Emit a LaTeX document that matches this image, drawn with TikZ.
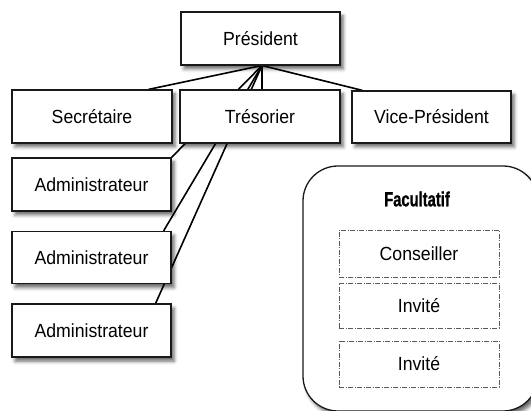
\documentclass[tikz,border=0pt]{standalone}
\usepackage{fontspec}
\setmainfont{Liberation Sans}[FakeStretch=0.93]
\newfontfamily\condfont{Liberation Sans}[FakeStretch=0.72, BoldFeatures={FakeBold=0.8}]
\usetikzlibrary{shadows.blur,calc}
\pgfdeclarelayer{bg}
\pgfsetlayers{bg,main}
\begin{document}
\begin{tikzpicture}[x=1pt,y=-1pt,
  shd/.style={blur shadow={shadow xshift=3pt, shadow yshift=-4pt, shadow blur radius=3.5pt, shadow opacity=60}},
  box/.style={draw=black!90, line width=1.2pt, fill=white, inner sep=0pt,
    minimum width=159pt, minimum height=53pt,
    font=\fontsize{19}{21}\selectfont, text=black, shd},
  optbox/.style={draw=black!65, line width=0.8pt,
    dash pattern=on 5pt off 1.5pt on 1pt off 1.5pt, fill=white, inner sep=0pt,
    minimum width=160pt, font=\fontsize{19}{21}\selectfont, text=black},
  conn/.style={line width=1.6pt, black}]
\path[use as bounding box, clip] (0,0) rectangle (531,411);

% main boxes
\node[box] (pres) at (260.5,38.5) {Président};
\node[box, minimum width=160pt] (sec) at (92,116.5) {Secrétaire};
\node[box, minimum width=160pt] (tre) at (260,116.5) {Trésorier};
\node[box, minimum height=52pt] (vp) at (431.5,117) {Vice-Président};
\node[box] (a1) at (91.5,184.5) {Administrateur};
\node[box, minimum height=52pt] (a2) at (91.5,257.5) {Administrateur};
\node[box] (a3) at (91.5,330.5) {Administrateur};

% optional group
\node[draw=black!90, line width=1.3pt, fill=white, rounded corners=35pt,
  minimum width=235pt, minimum height=245pt, inner sep=0pt, shd] (fac) at (420.5,288.5) {};
\node[font=\condfont\bfseries\fontsize{20.5}{22}\selectfont, inner sep=0pt] (factitle) at (417,199) {Facultatif};
\node[optbox, minimum height=47pt] (cons) at (419,253.5) {Conseiller};
\node[optbox, minimum height=45pt] (inv1) at (419,305.5) {Invité};
\node[optbox, minimum height=46pt] (inv2) at (419,364) {Invité};

% connectors
\coordinate (hub) at (262,65.5);
\begin{pgfonlayer}{bg}
\draw[conn] (hub) -- ([xshift=-24pt]sec.north east);
\draw[conn] (hub) -- (hub |- tre.north);
\draw[conn] (hub) -- ([xshift=11pt]vp.north west);
\draw[conn] (hub) -- (a1.north east);
\draw[conn] (hub) -- ([xshift=-8pt]a2.north east);
\draw[conn] (hub) -- ([xshift=-16pt]a3.north east);
\end{pgfonlayer}
\end{tikzpicture}
\end{document}
